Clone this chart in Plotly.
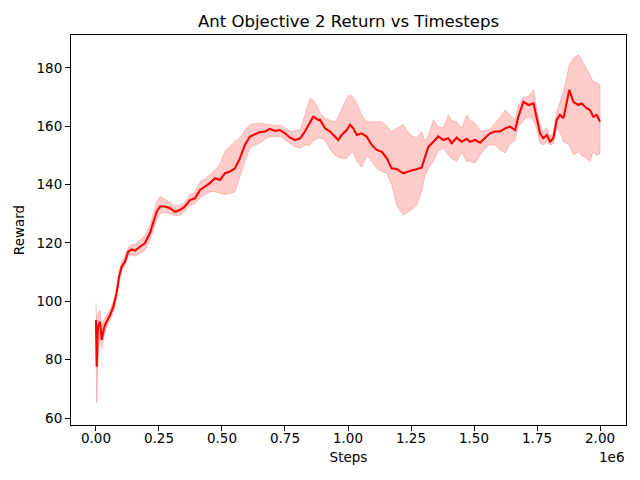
import plotly.graph_objects as go

# Steps (in units of 1e6) and reward statistics
steps_m = [
    0.000, 0.003, 0.008, 0.016, 0.023, 0.032, 0.042, 0.056, 0.069, 0.082, 0.092, 0.102,
    0.115, 0.128, 0.142, 0.155, 0.175, 0.194, 0.214, 0.227, 0.241, 0.254, 0.274, 0.294,
    0.313, 0.333, 0.353, 0.373, 0.393, 0.413, 0.433, 0.452, 0.472, 0.492, 0.512, 0.532,
    0.552, 0.571, 0.591, 0.611, 0.631, 0.651, 0.671, 0.690, 0.710, 0.730, 0.750, 0.770,
    0.790, 0.810, 0.829, 0.849, 0.862, 0.882, 0.889, 0.909, 0.929, 0.948, 0.961, 0.975,
    0.995, 1.008, 1.021, 1.035, 1.054, 1.074, 1.094, 1.114, 1.134, 1.154, 1.173, 1.193,
    1.219, 1.246, 1.273, 1.292, 1.306, 1.319, 1.339, 1.358, 1.378, 1.398, 1.411, 1.431,
    1.451, 1.471, 1.484, 1.504, 1.524, 1.544, 1.563, 1.583, 1.603, 1.623, 1.643, 1.663,
    1.676, 1.696, 1.716, 1.736, 1.749, 1.762, 1.775, 1.789, 1.802, 1.815, 1.828, 1.841,
    1.855, 1.868, 1.878, 1.894, 1.914, 1.927, 1.947, 1.960, 1.973, 1.987, 2.000,
]
mean = [
    93.6, 77.6, 91.3, 93.0, 86.8, 90.9, 93.0, 95.3, 98.2, 102.8, 108.5, 111.9,
    113.6, 117.0, 117.8, 117.4, 118.7, 119.9, 123.3, 126.8, 130.7, 132.5, 132.5, 131.9,
    130.7, 131.3, 132.5, 134.7, 135.3, 138.2, 139.3, 140.5, 142.2, 141.6, 143.9, 144.5,
    145.6, 149.0, 153.6, 156.5, 157.3, 158.0, 158.2, 159.1, 158.4, 158.7, 157.6, 156.1,
    155.3, 155.9, 158.2, 161.6, 163.3, 162.2, 162.2, 159.3, 158.2, 156.5, 155.3, 157.0,
    158.7, 160.5, 159.3, 157.0, 157.6, 156.5, 153.6, 151.9, 151.3, 149.0, 145.6, 145.4,
    143.9, 144.7, 145.4, 145.8, 149.6, 153.0, 154.7, 156.5, 155.3, 155.9, 154.2, 156.1,
    154.7, 155.7, 154.7, 155.3, 154.4, 155.9, 157.6, 158.2, 158.2, 159.3, 159.9, 158.7,
    163.3, 168.4, 167.3, 167.9, 162.2, 157.6, 155.9, 157.0, 154.7, 155.9, 162.2, 163.9,
    162.8, 168.4, 172.5, 168.4, 167.3, 167.9, 166.2, 165.6, 163.3, 163.9, 161.6,
]
lower = [
    88.0, 65.2, 80.0, 88.0, 84.0, 88.0, 91.0, 93.5, 96.5, 101.0, 107.0, 110.5,
    112.0, 115.5, 116.0, 115.5, 116.5, 117.5, 121.0, 124.0, 128.0, 130.0, 130.5, 130.0,
    129.5, 129.5, 131.0, 133.0, 133.5, 135.5, 136.5, 137.5, 137.6, 137.0, 136.5, 137.0,
    137.6, 142.7, 148.0, 152.5, 153.5, 154.3, 155.5, 156.5, 156.5, 156.5, 155.5, 154.2,
    153.0, 152.5, 153.5, 153.6, 155.0, 156.0, 156.0, 155.3, 152.0, 150.2, 149.5, 149.0,
    149.0, 150.5, 151.3, 148.0, 146.0, 150.0, 148.0, 145.6, 144.5, 144.0, 140.0, 133.0,
    129.6, 131.0, 133.0, 137.6, 143.0, 145.6, 147.9, 151.5, 152.5, 150.2, 149.0, 147.9,
    151.0, 148.0, 148.0, 147.4, 150.0, 152.5, 153.6, 153.6, 152.0, 150.8, 154.0, 155.3,
    160.0, 162.0, 163.3, 162.2, 159.0, 154.3, 153.6, 154.5, 153.6, 154.0, 159.3, 158.0,
    154.7, 154.0, 153.6, 150.2, 151.3, 150.0, 149.0, 147.9, 151.3, 150.0, 150.8,
]
upper = [
    99.4, 92.0, 96.0, 97.0, 91.0, 94.0, 95.0, 97.0, 100.0, 104.5, 110.0, 113.5,
    115.5, 118.5, 119.5, 119.5, 121.0, 122.5, 126.0, 130.0, 134.0, 136.0, 135.0, 134.0,
    132.5, 133.0, 134.0, 136.5, 137.5, 141.0, 142.0, 143.5, 145.0, 147.0, 151.5, 153.0,
    155.0, 156.0, 158.7, 160.5, 161.0, 161.0, 160.8, 160.5, 160.3, 160.2, 159.5, 158.2,
    158.5, 158.7, 164.0, 169.6, 169.0, 166.3, 164.5, 162.9, 162.0, 161.6, 163.0, 166.0,
    169.6, 170.7, 170.0, 168.0, 164.0, 161.6, 161.6, 161.6, 161.6, 160.0, 158.2, 159.3,
    160.5, 157.0, 156.0, 158.2, 155.0, 157.0, 162.2, 160.0, 159.3, 163.9, 162.0, 161.6,
    159.3, 163.9, 162.0, 161.1, 158.5, 158.5, 159.0, 161.0, 163.0, 165.6, 164.0, 162.2,
    167.0, 170.0, 170.2, 172.5, 166.0, 160.5, 158.0, 159.5, 156.5, 158.0, 165.0, 168.0,
    171.9, 177.0, 181.0, 183.3, 184.5, 183.0, 180.0, 177.6, 175.3, 175.0, 174.2,
]

xtick_vals = [0.0, 0.25, 0.5, 0.75, 1.0, 1.25, 1.5, 1.75, 2.0]
xtick_text = ["0.00", "0.25", "0.50", "0.75", "1.00", "1.25", "1.50", "1.75", "2.00"]
ytick_vals = [60, 80, 100, 120, 140, 160, 180]

steps = [s * 1e6 for s in steps_m]

fig = go.Figure()
fig.add_trace(go.Scatter(
    x=steps + steps[::-1], y=upper + lower[::-1],
    fill="toself", fillcolor="rgba(255,0,0,0.2)",
    line=dict(color="rgba(255,0,0,0.2)", width=1),
    hoverinfo="skip", showlegend=False,
))
fig.add_trace(go.Scatter(
    x=steps, y=mean, mode="lines",
    line=dict(color="red", width=2.1),
    showlegend=False,
))

axis_common = dict(
    showline=True, linecolor="black", linewidth=1.1, mirror=True,
    ticks="outside", ticklen=5, tickcolor="black", tickwidth=1.1,
    showgrid=False, zeroline=False, automargin=False,
    tickfont=dict(family="DejaVu Sans", size=13.5, color="black"),
)

# the page body has an 8px margin, so the figure is offset by 8px in the window
fig.update_layout(
    width=640, height=480,
    margin=dict(l=63, r=22, t=27, b=63),
    plot_bgcolor="white", paper_bgcolor="white",
    font=dict(family="DejaVu Sans", color="black"),
    title=dict(text="Ant Objective 2 Return vs Timesteps", x=0.5, xref="paper",
               xanchor="center", y=1 - 13 / 480, yanchor="middle",
               font=dict(family="DejaVu Sans", size=16.5, color="black")),
    xaxis=dict(range=[-0.099e6, 2.103e6], tickvals=[v * 1e6 for v in xtick_vals],
               ticktext=xtick_text, ticklabelstandoff=-4,
               title=dict(text="Steps", font=dict(family="DejaVu Sans", size=13.5), standoff=7),
               **axis_common),
    yaxis=dict(range=[57.6, 191.3], tickvals=ytick_vals,
               title=dict(text="Reward", font=dict(family="DejaVu Sans", size=13.5), standoff=8),
               **axis_common),
    annotations=[dict(text="1e6", x=1, xref="paper", xanchor="right",
                      y=-0.082, yref="paper", yanchor="middle",
                      showarrow=False, font=dict(family="DejaVu Sans", size=13.5, color="black"))],
)

fig.write_html("out.html")
